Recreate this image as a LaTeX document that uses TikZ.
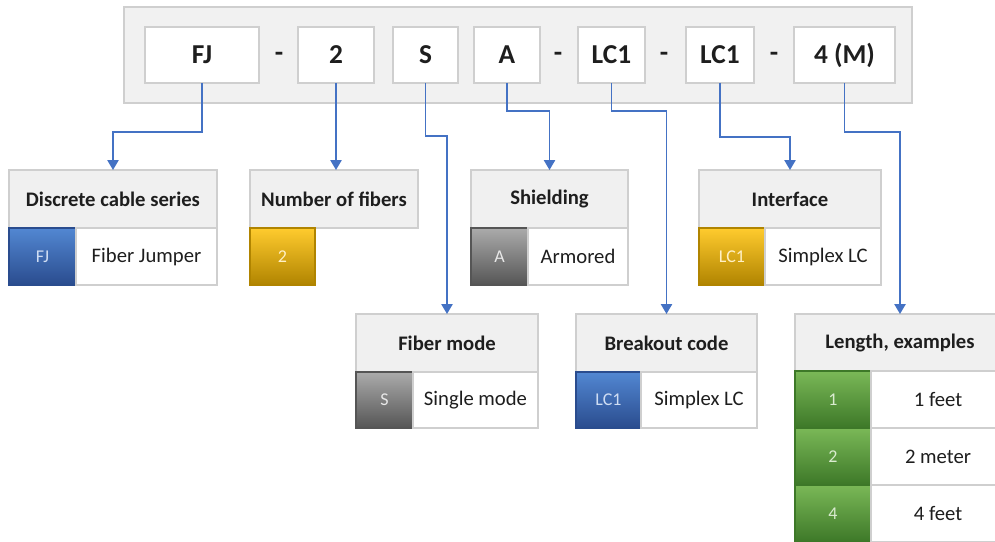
\documentclass[tikz,border=0pt]{standalone}
\usepackage{fontspec}
\setmainfont{Carlito}
\usetikzlibrary{arrows.meta}
\definecolor{conncol}{HTML}{4472C4}
\definecolor{bordcol}{HTML}{CFCFCF}
\definecolor{headfill}{HTML}{F0F0F0}
\definecolor{framefill}{HTML}{F1F1F1}
\definecolor{txt}{HTML}{1E1E1E}
\definecolor{blueT}{HTML}{5287D2}
\definecolor{blueB}{HTML}{2A4C8E}
\definecolor{yelT}{HTML}{FFCB2E}
\definecolor{yelB}{HTML}{B08400}
\definecolor{grayT}{HTML}{ABABAB}
\definecolor{grayB}{HTML}{555555}
\definecolor{grnT}{HTML}{7AB857}
\definecolor{grnB}{HTML}{3D7828}
\newcommand\mkcell[7]{\node[#6, minimum width={(#4-#2)*0.75pt}, minimum height={(#5-#3)*0.75pt}] (#1) at ({(#2+#4)/2},{(#3+#5)/2}) {#7};}
\tikzset{
  x=0.75pt, y=-0.75pt,
  base/.style={rectangle, inner sep=0pt, outer sep=0pt, line width=0.8pt},
  framebox/.style={base, draw=bordcol, fill=framefill},
  topbox/.style={base, draw=bordcol, fill=white, text=txt, font=\fontsize{20.5}{24}\selectfont\bfseries},
  headbox/.style={base, draw=bordcol, fill=headfill, text=txt, font=\fontsize{15.5}{18}\selectfont\bfseries},
  textbox/.style={base, draw=bordcol, fill=white, text=txt, font=\fontsize{15.5}{18}\selectfont},
  swatch/.style 2 args={base, top color=#1, bottom color=#2, draw=#2, text=white!72!#1, font=\fontsize{13.5}{16}\selectfont},
  dashtxt/.style={text=txt, font=\fontsize{20.5}{24}\selectfont\bfseries, inner sep=0pt},
  conn/.style={draw=conncol, line width=1.2pt, -{Triangle[width=8.5pt,length=7.5pt]}},
}
\begin{document}
\begin{tikzpicture}
\useasboundingbox (0,0) rectangle (995,542);
% top frame
\mkcell{frame}{124}{7}{912}{103}{framebox}{}
\mkcell{fj}{145}{27}{259}{83}{topbox}{FJ}
\mkcell{nf}{298}{27}{374}{83}{topbox}{2}
\mkcell{sm}{393}{27}{458}{83}{topbox}{S}
\mkcell{ar}{474}{27}{540}{83}{topbox}{A}
\mkcell{lca}{578}{27}{645}{83}{topbox}{LC1}
\mkcell{lcb}{686}{27}{754}{83}{topbox}{LC1}
\mkcell{len}{794}{27}{895}{83}{topbox}{4 (M)}
\node[dashtxt] (d1) at (279,57) {-};
\node[dashtxt] (d2) at (558,57) {-};
\node[dashtxt] (d3) at (664,57) {-};
\node[dashtxt] (d4) at (774,57) {-};
% Discrete cable series
\mkcell{discH}{9}{170}{217}{228}{headbox}{Discrete cable series}
\mkcell{discS}{9}{228}{76}{285}{swatch={blueT}{blueB}}{FJ}
\mkcell{discT}{76}{228}{217}{285}{textbox}{Fiber Jumper}
% Number of fibers
\mkcell{nfH}{250}{170}{418}{228}{headbox}{Number of fibers}
\mkcell{nfS}{250}{228}{315}{285}{swatch={yelT}{yelB}}{2}
% Shielding
\mkcell{shH}{471}{170}{628}{228}{headbox}{Shielding}
\mkcell{shS}{471}{228}{528}{285}{swatch={grayT}{grayB}}{A}
\mkcell{shT}{528}{228}{628}{285}{textbox}{Armored}
% Interface
\mkcell{ifH}{699}{170}{881}{228}{headbox}{Interface}
\mkcell{ifS}{699}{228}{765}{285}{swatch={yelT}{yelB}}{LC1}
\mkcell{ifT}{765}{228}{881}{285}{textbox}{Simplex LC}
% Fiber mode
\mkcell{fmH}{356}{314}{538}{372}{headbox}{Fiber mode}
\mkcell{fmS}{356}{372}{413}{428}{swatch={grayT}{grayB}}{S}
\mkcell{fmT}{413}{372}{538}{428}{textbox}{Single mode}
% Breakout code
\mkcell{boH}{576}{314}{757}{372}{headbox}{Breakout code}
\mkcell{boS}{576}{372}{641}{428}{swatch={blueT}{blueB}}{LC1}
\mkcell{boT}{641}{372}{757}{428}{textbox}{Simplex LC}
% Length, examples
\mkcell{lnH}{795}{314}{1005}{371}{headbox}{Length, examples}
\mkcell{lnS1}{795}{371}{871}{428}{swatch={grnT}{grnB}}{1}
\mkcell{lnT1}{871}{371}{1005}{428}{textbox}{1 feet}
\mkcell{lnS2}{795}{428}{871}{485}{swatch={grnT}{grnB}}{2}
\mkcell{lnT2}{871}{428}{1005}{485}{textbox}{2 meter}
\mkcell{lnS3}{795}{485}{871}{542}{swatch={grnT}{grnB}}{4}
\mkcell{lnT3}{871}{485}{1005}{542}{textbox}{4 feet}
% connectors
\coordinate (discIn) at (113,170);
\draw[conn] (fj.south) -- (fj.south |- 0,132) -| (discIn);
\draw[conn] (nf.south) -- (nf.south |- nfH.north);
\draw[conn] (sm.south) -- (sm.south |- 0,136) -| (fmH.north);
\draw[conn] (ar.south) -- (ar.south |- 0,111) -| (shH.north);
\draw[conn] (lca.south) -- (lca.south |- 0,111) -| (boH.north);
\draw[conn] (lcb.south) -- (lcb.south |- 0,137) -| (ifH.north);
\draw[conn] (len.south) -- (len.south |- 0,132) -| (lnH.north);
\end{tikzpicture}
\end{document}
